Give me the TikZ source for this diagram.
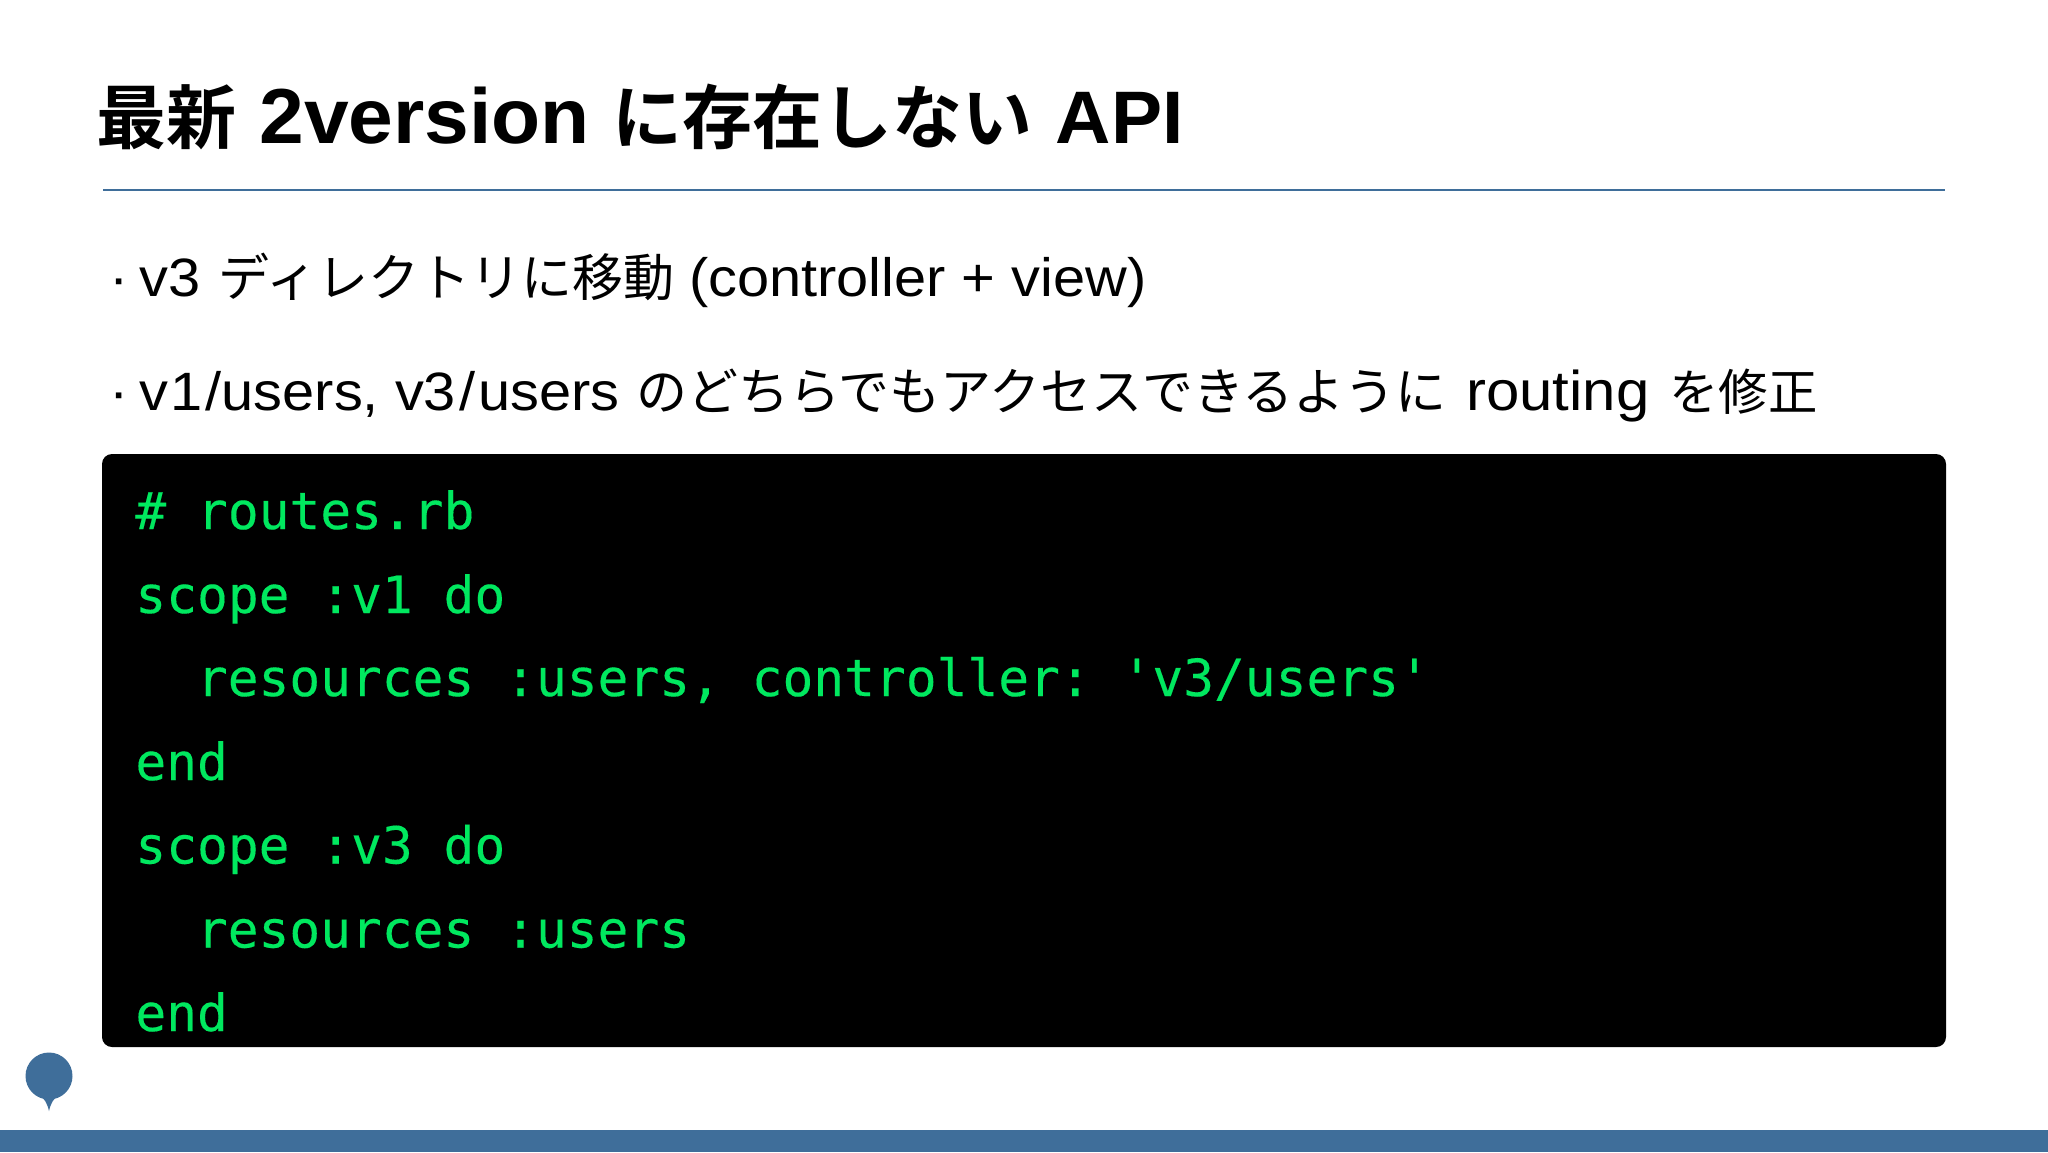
\documentclass[tikz,border=0pt]{standalone}
\usepackage{fontspec}
\setmainfont{Liberation Sans}
\setmonofont[FakeBold=0.25]{DejaVu Sans Mono}
\newfontfamily\jpfont{Noto Sans CJK JP}
\newfontfamily\jpbold{Noto Sans CJK JP Bold}
\newfontfamily\latwide[FakeStretch=1.07]{Liberation Sans}
\newfontfamily\latboldwide[FakeStretch=1.03]{Liberation Sans Bold}
\newcommand{\tj}[1]{{\jpbold\fontsize{35}{40}\selectfont #1}}
\newcommand{\tl}[1]{{\latboldwide\fontsize{39}{40}\selectfont #1}}
\newcommand{\ta}[1]{{\latboldwide\fontsize{37.2}{40}\selectfont #1}}
\newcommand{\bj}[1]{{\jpfont\fontsize{25.5}{30}\selectfont #1}}
\newcommand{\bk}[1]{{\jpfont\fontsize{24.7}{30}\selectfont #1}}
\newcommand{\bl}[1]{{\latwide\fontsize{27}{30}\selectfont #1}}
\newcommand{\br}[1]{{\latwide\fontsize{28}{30}\selectfont #1}}
\definecolor{slideblue}{HTML}{3F6E9A}
\definecolor{codegreen}{HTML}{00E85F}
\tikzset{
  titletext/.style={anchor=base west,inner sep=0pt,text=black},
  bodytext/.style={anchor=base west,inner sep=0pt,text=black},
  codetext/.style={anchor=base west,inner sep=0pt,text=codegreen,font=\fontsize{25.6}{30}\selectfont\ttfamily},
}
\begin{document}
\begin{tikzpicture}[x=0.5pt,y=-0.5pt]
\useasboundingbox (0,0) rectangle (2048,1152);
\fill[white] (0,0) rectangle (2048,1152);
\node[titletext] (title) at (96,143) {\tj{最新}\hspace{11.5pt}\tl{2version}\hspace{11.5pt}\tj{に存在しない}\hspace{11.5pt}\ta{API}};
\draw[slideblue,line width=0.9pt] (103,190) -- (1945,190);
\node[bodytext] (b1) at (109.5,296) {\bl{·}\hspace{5.25pt}\bl{v3}\hspace{9pt}\bj{ディレクトリに移動}\hspace{7.5pt}\bl{(controller + view)}};
\node[bodytext] (b2) at (109.5,410) {\bl{·}\hspace{5.25pt}\bl{v\kern1pt 1\kern1.5pt /users, v3\kern1.5pt /\kern1.5pt users}\hspace{8.3pt}\bj{のどちらでもアクセスできるように}\hspace{9.6pt}\br{routing}\hspace{10pt}\bk{を修正}};
\fill[black,rounded corners=5pt] (102,454) rectangle (1946,1047);
\node[codetext] (c1) at (135,529) {\# routes.rb};
\node[codetext] (c2) at (135,613) {scope :v1 do};
\node[codetext] (c3) at (196.5,696) {resources :users, controller: 'v3/users'};
\node[codetext] (c4) at (135,780) {end};
\node[codetext] (c5) at (135,863.5) {scope :v3 do};
\node[codetext] (c6) at (196.5,947.5) {resources :users};
\node[codetext] (c7) at (135,1031) {end};
\fill[slideblue] (49,1076) circle[radius=23.5];
\fill[slideblue] (39,1095) .. controls (45,1099) and (47,1103) .. (49,1111) .. controls (51,1103) and (53,1099) .. (59,1095) -- cycle;
\fill[slideblue] (0,1130) rectangle (2048,1152);
\end{tikzpicture}
\end{document}
